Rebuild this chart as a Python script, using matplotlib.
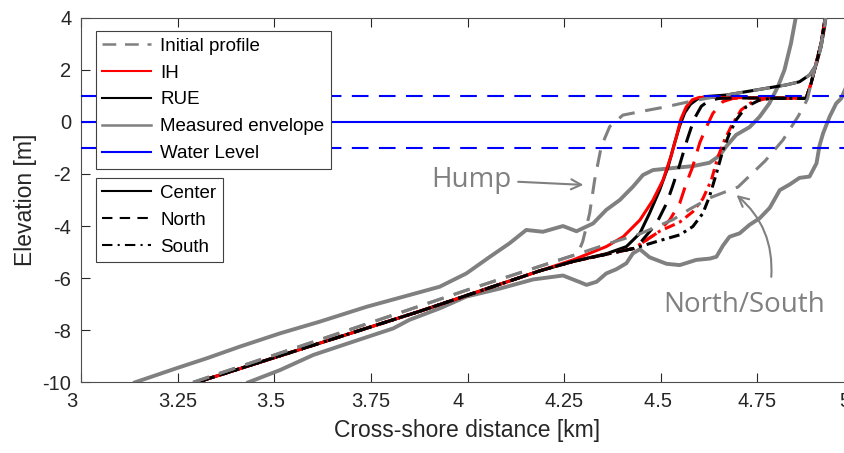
import matplotlib
matplotlib.use('Agg')
import matplotlib.pyplot as plt
from matplotlib.lines import Line2D

plt.rcParams['font.family'] = ['Liberation Sans', 'DejaVu Sans']
plt.rcParams['axes.unicode_minus'] = False

# ---- data (cross-shore distance in km, elevation in m) ----
water_levels = [1.0, 0.0, -1.0]

env_upper_x = [3.14, 3.247, 3.325, 3.411, 3.515, 3.618, 3.739, 3.825, 3.928, 3.997, 4.058,
               4.109, 4.152, 4.195, 4.247, 4.282, 4.325, 4.359, 4.394, 4.428, 4.454, 4.480,
               4.540, 4.583, 4.626, 4.652, 4.669, 4.695, 4.730, 4.756, 4.781, 4.803, 4.820,
               4.837, 4.853]
env_upper_y = [-10.0, -9.46, -9.08, -8.63, -8.12, -7.67, -7.10, -6.75, -6.33, -5.82, -5.18,
               -4.66, -4.15, -4.22, -4.00, -4.20, -3.90, -3.38, -3.00, -2.49, -2.04, -1.85,
               -1.76, -1.70, -1.57, -1.30, -0.95, -0.50, -0.20, 0.20, 0.71, 1.35, 1.99,
               3.02, 4.30]

env_lower_x = [3.433, 3.515, 3.601, 3.704, 3.808, 3.85, 3.93, 3.997, 4.084, 4.170, 4.247,
               4.290, 4.308, 4.334, 4.359, 4.385, 4.411, 4.428, 4.446, 4.471, 4.515, 4.549,
               4.592, 4.627, 4.644, 4.661, 4.678, 4.704, 4.730, 4.756, 4.782, 4.808, 4.834,
               4.859, 4.885, 4.903, 4.911, 4.920, 4.937, 4.954, 4.967, 4.99]
env_lower_y = [-10.0, -9.53, -8.95, -8.44, -7.93, -7.60, -7.15, -6.71, -6.40, -6.05, -5.90,
               -6.15, -6.26, -6.14, -5.82, -5.66, -5.43, -5.05, -4.89, -5.20, -5.45, -5.50,
               -5.30, -5.25, -5.18, -4.75, -4.41, -4.28, -3.95, -3.70, -3.30, -2.62, -2.40,
               -2.15, -2.10, -1.59, -0.90, -0.44, 0.20, 0.71, 0.90, 1.70]

init_center_x = [3.29, 3.825, 4.0, 4.285, 4.298, 4.308, 4.316, 4.329, 4.346, 4.368, 4.402,
                 4.446, 4.514, 4.575, 4.618, 4.669, 4.721, 4.773, 4.825, 4.859, 4.885,
                 4.902, 4.915, 4.924, 4.93]
init_center_y = [-10.0, -7.33, -6.45, -5.07, -4.60, -4.00, -3.51, -2.23, -0.95, -0.18, 0.26,
                 0.39, 0.58, 0.78, 0.90, 1.03, 1.16, 1.29, 1.42, 1.54, 1.80,
                 2.18, 2.89, 3.66, 4.30]

init_ns_x = [3.29, 3.825, 4.0, 4.29, 4.37, 4.446, 4.532, 4.575, 4.63, 4.70, 4.77, 4.816,
             4.855, 4.872, 4.880, 4.889, 4.902, 4.915, 4.925, 4.928]
init_ns_y = [-10.0, -7.33, -6.45, -5.05, -4.65, -4.30, -3.75, -3.35, -2.90, -2.50, -1.50, -0.70,
             0.20, 0.65, 0.90, 1.48, 2.25, 3.02, 3.95, 4.30]

ih_center_x = [3.30, 3.877, 4.187, 4.273, 4.359, 4.403, 4.446, 4.480, 4.506, 4.527, 4.540,
               4.552, 4.566, 4.582, 4.600, 4.70, 4.80, 4.876, 4.889, 4.902, 4.915, 4.925, 4.928]
ih_center_y = [-10.0, -7.27, -5.72, -5.30, -4.79, -4.41, -3.77, -3.00, -2.23, -1.30, -0.60,
               0.10, 0.58, 0.85, 0.94, 0.93, 0.92, 0.90, 1.48, 2.25, 3.02, 3.95, 4.30]

ih_north_x = [3.30, 3.877, 4.187, 4.273, 4.36, 4.43, 4.489, 4.523, 4.549, 4.566, 4.582,
              4.601, 4.618, 4.635, 4.661, 4.687, 4.75, 4.80, 4.876, 4.889, 4.902, 4.915,
              4.925, 4.928]
ih_north_y = [-10.0, -7.27, -5.72, -5.36, -5.08, -4.86, -4.28, -3.77, -3.13, -2.36, -1.75,
              -0.80, -0.20, 0.33, 0.78, 0.90, 0.92, 0.91, 0.90, 1.48, 2.25, 3.02,
              3.95, 4.30]

ih_south_x = [3.30, 3.877, 4.187, 4.273, 4.36, 4.43, 4.497, 4.549, 4.583, 4.609, 4.631,
              4.648, 4.665, 4.682, 4.708, 4.738, 4.773, 4.80, 4.876, 4.889, 4.902, 4.915,
              4.925, 4.928]
ih_south_y = [-10.0, -7.27, -5.72, -5.36, -5.08, -4.86, -4.20, -3.85, -3.45, -2.95, -2.23,
              -1.34, -0.70, -0.18, 0.46, 0.78, 0.89, 0.91, 0.90, 1.48, 2.25, 3.02,
              3.95, 4.30]

rue_center_x = [3.30, 3.877, 4.187, 4.273, 4.36, 4.411, 4.446, 4.471, 4.497, 4.519, 4.536,
                4.549, 4.562, 4.577, 4.595, 4.615, 4.669, 4.721, 4.773, 4.825, 4.859, 4.885,
                4.902, 4.915, 4.924, 4.93]
rue_center_y = [-10.0, -7.27, -5.72, -5.36, -5.06, -4.79, -4.28, -3.51, -2.62, -1.72, -0.80,
                -0.15, 0.35, 0.68, 0.88, 0.97, 1.03, 1.16, 1.29, 1.42, 1.54, 1.80,
                2.18, 2.89, 3.66, 4.30]

rue_north_x = [3.30, 3.877, 4.187, 4.273, 4.36, 4.43, 4.446, 4.489, 4.515, 4.530, 4.549,
               4.568, 4.586, 4.605, 4.625, 4.65, 4.70, 4.80, 4.876, 4.889, 4.902, 4.915,
               4.925, 4.928]
rue_north_y = [-10.0, -7.27, -5.72, -5.36, -5.08, -4.86, -4.66, -3.90, -3.13, -2.50, -1.65,
               -0.70, 0.10, 0.60, 0.82, 0.90, 0.92, 0.91, 0.90, 1.48, 2.25, 3.02,
               3.95, 4.30]

rue_south_x = [3.30, 3.877, 4.187, 4.273, 4.36, 4.43, 4.497, 4.549, 4.583, 4.609, 4.626,
               4.644, 4.661, 4.678, 4.695, 4.721, 4.756, 4.790, 4.876, 4.889, 4.902, 4.915,
               4.925, 4.928]
rue_south_y = [-10.0, -7.27, -5.72, -5.36, -5.08, -4.86, -4.56, -4.34, -4.02, -3.51, -2.87,
               -1.98, -1.08, -0.44, 0.07, 0.58, 0.84, 0.91, 0.90, 1.48, 2.25, 3.02,
               3.95, 4.30]

x_ticks = [3, 3.25, 3.5, 3.75, 4, 4.25, 4.5, 4.75, 5]
x_ticklabels = ['3   ', '3.25', '3.5 ', '3.75', '4   ', '4.25', '4.5 ', '4.75', '5   ']
y_ticks = [-10, -8, -6, -4, -2, 0, 2, 4]
y_ticklabels = ['-10', '-8', '-6', '-4', '-2', '0', '2', '4']

GRAY = '#808080'
TXT = '#262626'
DASH = (5.5, 3.5)
DASHDOT = (3.5, 1.6, 1.0, 1.6)

fig = plt.figure(figsize=(8.44, 4.53), dpi=100)
ax = fig.add_axes([81 / 844, 70.7 / 453, 773 / 844, 364.6 / 453])

# measured envelope
ax.plot(env_upper_x, env_upper_y, color=GRAY, lw=2.8, zorder=2)
ax.plot(env_lower_x, env_lower_y, color=GRAY, lw=2.8, zorder=2)

# model results
ax.plot(rue_center_x, rue_center_y, color='black', lw=2.2, zorder=3)
ax.plot(ih_center_x, ih_center_y, color='red', lw=2.2, zorder=3)
ax.plot(ih_north_x, ih_north_y, color='red', lw=2.2, dashes=DASH, zorder=3)
ax.plot(ih_south_x, ih_south_y, color='red', lw=2.2, dashes=DASHDOT, zorder=3)
ax.plot(rue_north_x, rue_north_y, color='black', lw=2.2, dashes=DASH, zorder=3)
ax.plot(rue_south_x, rue_south_y, color='black', lw=2.2, dashes=DASHDOT, zorder=3)

# initial profiles
ax.plot(init_center_x, init_center_y, color=GRAY, lw=2.2, dashes=DASH, zorder=4)
ax.plot(init_ns_x, init_ns_y, color=GRAY, lw=2.2, dashes=DASH, zorder=4)

# water levels
for wl in water_levels:
    if wl == 0:
        ax.axhline(wl, color='blue', lw=1.5, zorder=5)
    else:
        ax.axhline(wl, color='blue', lw=1.5, dashes=(8, 5), zorder=5)

# annotations
afont = dict(family=['Open Sans', 'DejaVu Sans'], size=20, color=GRAY)
ax.text(4.011, -2.49, 'Hump', ha='center', va='baseline', **afont)
ax.annotate('', xy=(4.30, -2.42), xytext=(4.131, -2.30),
            arrowprops=dict(arrowstyle='->', color=GRAY, lw=1.5, mutation_scale=18,
                            shrinkA=0, shrinkB=0))
ax.text(4.715, -7.29, 'North/South', ha='center', va='baseline', **afont)
ax.annotate('', xy=(4.696, -2.81), xytext=(4.786, -5.95),
            arrowprops=dict(arrowstyle='->', color=GRAY, lw=1.5, mutation_scale=18,
                            shrinkA=0, shrinkB=0, connectionstyle='arc3,rad=0.25'))

ax.set_xlim(3, 5)
ax.set_ylim(-10, 4)
ax.set_xticks(x_ticks)
ax.set_xticklabels(x_ticklabels)
ax.set_yticks(y_ticks)
ax.set_yticklabels(y_ticklabels)
ax.tick_params(direction='in', length=6.5, width=0.8, top=True, right=True,
               labelsize=14.5, colors=TXT, pad=7)
for s in ax.spines.values():
    s.set_color('#4d4d4d')
    s.set_linewidth(0.8)
ax.set_xlabel('Cross-shore distance [km]', fontsize=16.5, color=TXT, labelpad=6)
ax.set_ylabel('Elevation [m]', fontsize=16.5, color=TXT, labelpad=4)

# legends
h1 = [Line2D([], [], color=GRAY, lw=1.8, dashes=DASH),
      Line2D([], [], color='red', lw=1.5),
      Line2D([], [], color='black', lw=1.5),
      Line2D([], [], color=GRAY, lw=1.8),
      Line2D([], [], color='blue', lw=1.5)]
l1 = ['Initial profile', 'IH', 'RUE', 'Measured envelope', 'Water Level']
leg1 = ax.legend(h1, l1, loc='upper left', bbox_to_anchor=(0.019, 0.9635), borderaxespad=0,
                 fontsize=13.5, fancybox=False, edgecolor='#404040', framealpha=1,
                 handlelength=2.6, handletextpad=0.5, labelspacing=0.52, borderpad=0.35)
leg1.get_frame().set_linewidth(0.8)
ax.add_artist(leg1)

h2 = [Line2D([], [], color='black', lw=1.5),
      Line2D([], [], color='black', lw=1.5, dashes=(5, 3.5)),
      Line2D([], [], color='black', lw=1.5, dashes=(5, 2.5, 1, 2.5))]
l2 = ['Center', 'North', 'South']
leg2 = ax.legend(h2, l2, loc='upper left', bbox_to_anchor=(0.019, 0.5595), borderaxespad=0,
                 fontsize=13.5, fancybox=False, edgecolor='#404040', framealpha=1,
                 handlelength=2.6, handletextpad=0.5, labelspacing=0.52, borderpad=0.35)
leg2.get_frame().set_linewidth(0.8)

fig.savefig('out.png', dpi=100)
